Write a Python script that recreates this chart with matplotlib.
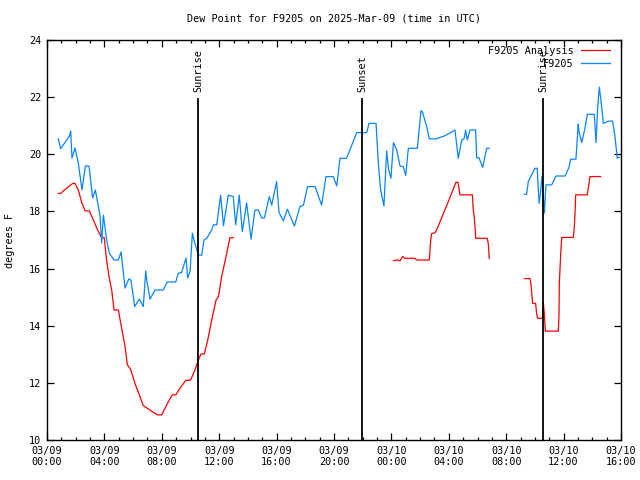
import numpy as np
import matplotlib
matplotlib.use('Agg')
import matplotlib.pyplot as plt
from matplotlib.ticker import MultipleLocator

# heures depuis 03/09 00:00 UTC
obs_hours = [0.79, 0.95, 1.56, 1.65, 1.74, 1.95, 2.18, 2.44, 2.67, 2.93, 3.18, 3.37, 3.69, 3.81, 3.93,
             4.16, 4.34, 4.67, 4.97, 5.16, 5.44, 5.71, 5.85, 6.11, 6.43, 6.71, 6.88, 6.95, 7.18, 7.53,
             8.1, 8.38, 8.97, 9.15, 9.38, 9.69, 9.8, 9.97, 10.13, 10.24, 10.55, 10.78, 10.94, 11.13,
             11.48, 11.59, 11.83, 12.1, 12.3, 12.63, 12.98, 13.15, 13.4, 13.61, 13.91, 14.22, 14.49,
             14.73, 14.96, 15.15, 15.49, 15.66, 16.0, 16.17, 16.47, 16.75, 17.24, 17.63, 17.87, 18.16,
             18.68, 19.14, 19.44, 19.95, 20.19, 20.42, 20.88, 21.58, 22.28, 22.44, 22.93, 23.09, 23.25,
             23.48, 23.67, 23.81, 23.97, 24.14, 24.37, 24.6, 24.83, 25.0, 25.18, 25.81, 26.06, 26.15,
             26.46, 26.64, 27.11, 27.74, 28.43, 28.66, 28.9, 29.07, 29.17, 29.29, 29.48, 29.87, 29.94,
             30.1, 30.36, 30.64, 30.82, 32.0, 33.26, 33.42, 33.54, 33.77, 34.0, 34.16, 34.29, 34.4,
             34.49, 34.66, 34.77, 35.17, 35.47, 36.1, 36.38, 36.49, 36.86, 37.02, 37.07, 37.26, 37.49,
             37.65, 38.14, 38.26, 38.37, 38.49, 38.6, 38.77, 39.12, 39.42, 39.58, 39.74, 39.9]
obs_dewpt = [20.54, 20.19, 20.64, 20.82, 19.87, 20.22, 19.7, 18.75, 19.59, 19.59, 18.47, 18.75, 17.87, 16.9, 17.87,
             17.0, 16.54, 16.3, 16.3, 16.58, 15.32, 15.64, 15.6, 14.67, 14.93, 14.67, 15.92, 15.6, 14.93, 15.25,
             15.25, 15.53, 15.53, 15.84, 15.86, 16.37, 15.67, 15.9, 17.24, 17.0, 16.47, 16.47, 17.0, 17.06,
             17.35, 17.53, 17.53, 18.57, 17.5, 18.57, 18.52, 17.53, 18.57, 17.29, 18.3, 17.03, 18.05,
             18.05, 17.77, 17.77, 18.52, 18.22, 19.04, 17.96, 17.67, 18.08, 17.49, 18.17, 18.22, 18.87,
             18.87, 18.22, 19.22, 19.22, 18.89, 19.86, 19.86, 20.76, 20.76, 21.08, 21.08, 19.68, 18.75,
             18.19, 20.12, 19.45, 19.16, 20.41, 20.15, 19.59, 19.57, 19.26, 20.21, 20.21, 21.52, 21.5,
             20.97, 20.54, 20.54, 20.65, 20.85, 19.86, 20.5, 20.55, 20.85, 20.5, 20.85, 20.85, 19.88,
             19.88, 19.54, 20.21, 20.21, np.nan, 18.6, 18.6, 19.04, 19.28, 19.51, 19.51, 18.28, 18.7,
             19.22, 17.94, 18.93, 18.93, 19.24, 19.24, 19.54, 19.83, 19.83, 21.06, 20.8, 20.41, 20.91,
             21.4, 21.4, 20.41, 21.59, 22.35, 21.9, 21.08, 21.16, 21.16, 20.62, 19.86, 19.9]

ana_hours = [0.79, 0.95, 1.25, 1.79, 1.95, 2.18, 2.42, 2.65, 2.95, 3.23, 3.51, 3.81, 3.99, 4.16, 4.32,
             4.51, 4.67, 4.97, 5.16, 5.44, 5.6, 5.83, 6.13, 6.43, 6.71, 6.99, 7.41, 7.69, 7.99, 8.34,
             8.73, 8.97, 9.31, 9.66, 10.01, 10.31, 10.55, 10.73, 10.96, 11.2, 11.48, 11.78, 11.95, 12.17,
             12.45, 12.75, 12.98, 18.0, 24.14, 24.3, 24.45, 24.6, 24.78, 24.93, 25.64, 25.76, 26.64, 26.74,
             26.81, 27.04, 27.2, 27.85, 28.5, 28.64, 28.78, 29.64, 29.71, 29.78, 29.85, 29.87, 30.68,
             30.75, 30.82, 32.0, 33.26, 33.66, 33.73, 33.8, 33.84, 34.05, 34.12, 34.19, 34.52, 34.59,
             34.66, 34.73, 35.63, 35.68, 35.7, 35.8, 35.87, 36.68, 36.75, 36.82, 36.84, 37.65, 37.84, 38.58]
ana_dewpt = [18.63, 18.63, 18.77, 18.98, 18.98, 18.75, 18.31, 18.02, 18.02, 17.7, 17.37, 17.08, 17.08, 16.27, 15.72,
             15.25, 14.55, 14.55, 14.03, 13.27, 12.63, 12.47, 11.98, 11.58, 11.2, 11.11, 10.97, 10.88, 10.88, 11.23,
             11.58, 11.58, 11.84, 12.08, 12.1, 12.45, 12.8, 13.01, 13.01, 13.5, 14.2, 14.9, 15.02, 15.72,
             16.36, 17.08, 17.08, np.nan, 16.27, 16.3, 16.3, 16.27, 16.42, 16.36, 16.36, 16.3, 16.3, 17.0,
             17.23, 17.25, 17.41, 18.2, 19.02, 19.02, 18.58, 18.58, 18.05, 17.76, 17.31, 17.06, 17.06,
             16.88, 16.36, np.nan, 15.65, 15.65, 15.42, 15.02, 14.78, 14.78, 14.43, 14.26, 14.26, 14.78,
             14.4, 13.81, 13.81, 14.38, 15.45, 16.53, 17.09, 17.09, 17.47, 18.22, 18.58, 18.58, 19.22, 19.22]

event_hours = [10.52, 21.95, 34.56]
event_names = ['Sunrise', 'Sunset', 'Sunrise']

tick_hours = [0, 4, 8, 12, 16, 20, 24, 28, 32, 36, 40]
tick_labels = ['03/09\n00:00', '03/09\n04:00', '03/09\n08:00', '03/09\n12:00', '03/09\n16:00',
               '03/09\n20:00', '03/10\n00:00', '03/10\n04:00', '03/10\n08:00', '03/10\n12:00',
               '03/10\n16:00']

plt.rcParams['font.family'] = ['DejaVu Sans Mono']
plt.rcParams['font.size'] = 7.3

fig = plt.figure(figsize=(6.4, 4.8), dpi=100)
ax = fig.add_axes([47 / 640, 40 / 480, 574 / 640, 400 / 480])

ax.plot(ana_hours, ana_dewpt, color='#ff0000', lw=0.9, label='F9205 Analysis')
ax.plot(obs_hours, obs_dewpt, color='#0a84ff', lw=0.9, label='F9205')

for h, name in zip(event_hours, event_names):
    ax.axvline(h, ymin=0, ymax=0.8525, color='black', lw=1.3)
    ax.text(h, 0.87, name, transform=ax.get_xaxis_transform(), rotation=90,
            ha='center', va='bottom')

ax.set_xlim(0, 40)
ax.set_ylim(10, 24)
ax.set_xticks(tick_hours)
ax.set_xticklabels(tick_labels)
ax.xaxis.set_minor_locator(MultipleLocator(1))
ax.set_yticks(np.arange(10, 25, 2))
ax.tick_params(direction='in', top=True, right=True, length=5, width=0.9, pad=4)
ax.tick_params(which='minor', direction='in', top=True, length=2.5, width=0.9)
for s in ax.spines.values():
    s.set_linewidth(1.0)

ax.set_title('Dew Point for F9205 on 2025-Mar-09 (time in UTC)', fontsize=7.3, pad=13)
ax.set_ylabel('degrees F', labelpad=10)
ax.legend(loc='upper right', bbox_to_anchor=(1 - 11 / 574, 1 - 6 / 400), frameon=False,
          markerfirst=False, handlelength=2.9, handletextpad=0.7, borderaxespad=0,
          labelspacing=0.3, borderpad=0)

plt.savefig('out.png', dpi=100)
